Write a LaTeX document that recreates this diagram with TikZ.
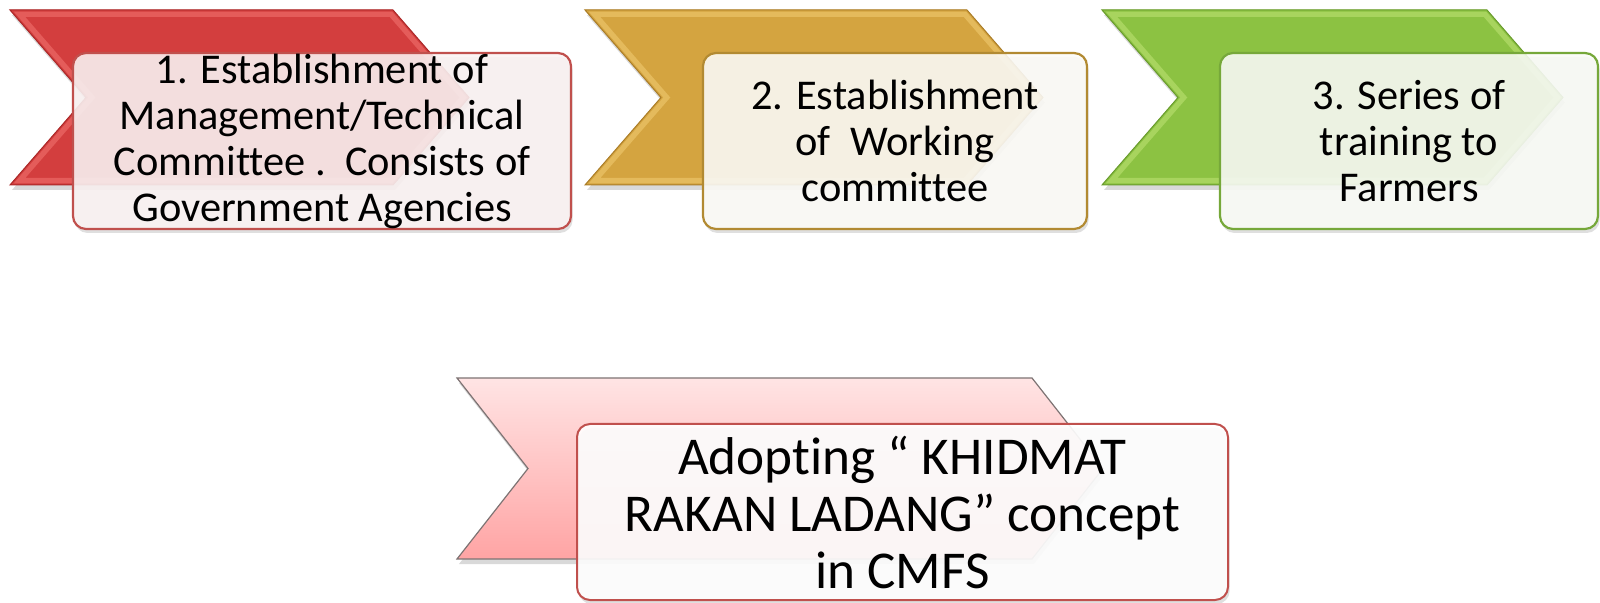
\documentclass[tikz,border=0pt]{standalone}
\usepackage{fontspec}
\setmainfont{Carlito}[Ligatures=NoCommon]
\usetikzlibrary{shadows}

\definecolor{redbase}{RGB}{211,62,62}
\definecolor{redlight}{RGB}{228,92,90}
\definecolor{reddark}{RGB}{170,40,40}
\definecolor{goldbase}{RGB}{212,164,64}
\definecolor{goldlight}{RGB}{228,186,92}
\definecolor{golddark}{RGB}{170,125,40}
\definecolor{greenbase}{RGB}{140,194,66}
\definecolor{greenlight}{RGB}{168,212,94}
\definecolor{greendark}{RGB}{105,155,45}
\definecolor{pinktop}{RGB}{255,228,228}
\definecolor{pinkbot}{RGB}{255,164,164}
\definecolor{pinkline}{RGB}{125,115,115}
\definecolor{boxred}{RGB}{192,80,77}
\definecolor{boxgold}{RGB}{178,138,50}
\definecolor{boxgreen}{RGB}{118,168,58}

% #1 left, #2 right(top corner), #3 tip x, #4 notch x, #5 top, #6 mid, #7 bottom, #8 colour family
\newcommand\mychev[8]{%
  \path[drop shadow={shadow xshift=1pt, shadow yshift=-2.5pt, opacity=0.3}]
    (#1,#5) -- (#2,#5) -- (#3,#6) -- (#2,#7) -- (#1,#7) -- (#4,#6) -- cycle;
  \begin{scope}
    \clip (#1,#5) -- (#2,#5) -- (#3,#6) -- (#2,#7) -- (#1,#7) -- (#4,#6) -- cycle;
    \fill[#8base] (#1,#5) -- (#2,#5) -- (#3,#6) -- (#2,#7) -- (#1,#7) -- (#4,#6) -- cycle;
    \draw[#8light, line width=7pt, line join=miter]
      (#1,#5) -- (#2,#5) -- (#3,#6) -- (#2,#7) -- (#1,#7) -- (#4,#6) -- cycle;
    \draw[#8base, line width=1.6pt, line join=miter]
      (#1,#5) -- (#2,#5) -- (#3,#6) -- (#2,#7) -- (#1,#7) -- (#4,#6) -- cycle;
  \end{scope}
  \draw[#8dark, line width=0.5pt]
    (#1,#5) -- (#2,#5) -- (#3,#6) -- (#2,#7) -- (#1,#7) -- (#4,#6) -- cycle;
}

\tikzset{
  stepbox/.style={draw, line width=1.1pt, rounded corners=6.5pt, fill opacity=0.88,
    text opacity=1, align=center, inner sep=0pt, minimum height=88pt,
    font=\fontsize{21.2pt}{23pt}\selectfont,
    drop shadow={shadow xshift=0.8pt, shadow yshift=-2pt, opacity=0.25}},
}

\begin{document}
\begin{tikzpicture}[x=0.5pt, y=-0.5pt]
\useasboundingbox (0,0) rectangle (1600,603);

% top chevrons
\mychev{10}{393}{469}{86}{10}{97.5}{185}{red}
\mychev{585}{967}{1043}{661}{10}{97.5}{185}{gold}
\mychev{1102}{1487}{1563}{1178}{10}{97.5}{185}{green}

% bottom chevron
\path[drop shadow={shadow xshift=1pt, shadow yshift=-2.5pt, opacity=0.3}]
  (457,378) -- (1032,378) -- (1103,468.5) -- (1032,559) -- (457,559) -- (528,468.5) -- cycle;
\shade[top color=pinktop, bottom color=pinkbot]
  (457,378) -- (1032,378) -- (1103,468.5) -- (1032,559) -- (457,559) -- (528,468.5) -- cycle;
\draw[pinkline, line width=0.6pt]
  (457,378) -- (1032,378) -- (1103,468.5) -- (1032,559) -- (457,559) -- (528,468.5) -- cycle;

% boxes
\node[stepbox, draw=boxred, fill={rgb,255:red,251;green,243;blue,243}, minimum width=249pt]
  (b1) at (322,141) {1. Establishment of\\Management/Technical\\Committee .\ \ Consists of\\Government Agencies};
\node[stepbox, draw=boxgold, fill={rgb,255:red,253;green,252;blue,248}, minimum width=192pt]
  (b2) at (895,141) {2. Establishment\\of\ \ Working\\committee};
\node[stepbox, draw=boxgreen, fill={rgb,255:red,250;green,252;blue,247}, minimum width=189pt]
  (b3) at (1409,141) {3. Series of\\training to\\Farmers};
\node[stepbox, draw=boxred, line width=1pt, fill=white, fill opacity=0.9, minimum width=325.5pt,
  font=\fontsize{26.6pt}{28.5pt}\selectfont]
  (b4) at (902.5,512) {Adopting “ KHIDMAT\\RAKAN LADANG” concept\\in CMFS};
\end{tikzpicture}
\end{document}
